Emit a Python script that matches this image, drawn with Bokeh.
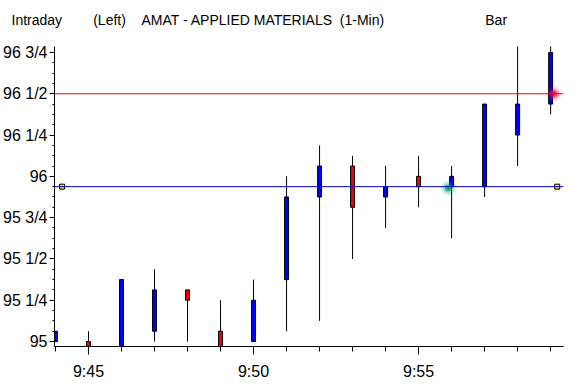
from bokeh.plotting import figure
from bokeh.models import Range1d, FixedTicker, ColumnDataSource, Span, Title
from bokeh.embed import file_html
from bokeh.resources import INLINE

# ---- data ----
times = ["9:44", "9:45", "9:46", "9:47", "9:48", "9:49", "9:50", "9:51",
         "9:52", "9:53", "9:54", "9:55", "9:56", "9:57", "9:58", "9:59"]
opens = [95.0, 95.0, 94.9375, 95.0625, 95.3125, 95.0625, 95.0, 95.375,
         95.875, 96.0625, 95.875, 96.0, 95.9375, 95.9375, 96.25, 96.4375]
highs = [95.0625, 95.0625, 95.375, 95.4375, 95.3125, 95.25, 95.375, 96.0,
         96.1875, 96.125, 96.0625, 96.125, 96.0625, 96.4375, 96.8125, 96.8125]
lows = [95.0, 94.875, 94.9375, 95.0, 95.0, 94.875, 95.0, 95.0625,
        95.125, 95.5, 95.6875, 95.8125, 95.625, 95.875, 96.0625, 96.375]
closes = [95.0625, 94.9375, 95.375, 95.3125, 95.25, 94.9375, 95.25, 95.875,
          96.0625, 95.8125, 95.9375, 95.9375, 96.0, 96.4375, 96.4375, 96.75]

y_tick_values = [95.0, 95.25, 95.5, 95.75, 96.0, 96.25, 96.5, 96.75]
y_tick_labels = ["95", "95 1/4", "95 1/2", "95 3/4", "96", "96 1/4", "96 1/2", "96 3/4"]
x_tick_labels = ["9:45", "9:50", "9:55"]

upper_level = 96.5        # red horizontal line
last_level = 95.9375      # blue horizontal line
level_marks_t = ["9:44.2", "9:59.2"]
green_dot = ("9:55.9", 95.93)
red_dot = ("9:59.1", 96.5)

header_texts = ["Intraday", "(Left)", "AMAT - APPLIED MATERIALS  (1-Min)", "Bar"]
header_gaps = [8, 4, 26]   # non-breaking spaces between header parts


def to_min(s):
    h, m = s.split(":")
    return (float(h) - 9) * 60 + float(m)


t = [to_min(s) for s in times]
bottoms = [min(o, c) for o, c in zip(opens, closes)]
tops = [max(o, c) for o, c in zip(opens, closes)]
colors = ["#0000FF" if c >= o else "#F00000" for o, c in zip(opens, closes)]
src = ColumnDataSource(dict(t=t, hi=highs, lo=lows, b=bottoms, tp=tops, col=colors))

FONT = "Liberation Sans, Arial, sans-serif"
NB = "\u00a0"

header = header_texts[0]
for g, s in zip(header_gaps, header_texts[1:]):
    header += NB * g + s.replace("  ", NB + NB)

p = figure(width=571, height=382,
           x_range=Range1d(43.97, 59.39), y_range=Range1d(94.970, 96.786),
           output_backend="svg", toolbar_location=None,
           min_border_left=54, min_border_right=8, min_border_top=44,
           min_border_bottom=35)
p.title.text = ""
p.title.visible = False

# small blank gap between the header line and the plot area, then the header
p.add_layout(Title(text=NB, text_font=FONT, text_font_size="6px", standoff=2), "above")
p.add_layout(Title(text=header, align="left", offset=-43, standoff=18,
                   text_font=FONT, text_font_size="14px", text_font_style="normal",
                   text_color="black"), "above")

p.outline_line_color = None
p.grid.visible = False
p.background_fill_color = "white"
p.border_fill_color = "white"

xa = p.below[0]
ya = p.left[0]
xa.ticker = FixedTicker(ticks=[to_min(s) for s in x_tick_labels], minor_ticks=t)
xa.major_label_overrides = {to_min(s): s for s in x_tick_labels}
ya.ticker = FixedTicker(ticks=y_tick_values,
                        minor_ticks=[95.0 + k / 16 for k in range(-1, 30)])
ya.major_label_overrides = dict(zip(y_tick_values, y_tick_labels))
for ax in (xa, ya):
    ax.major_label_text_font = FONT
    ax.major_label_text_font_size = "16px"
    ax.major_label_text_color = "black"
    ax.major_tick_in = 0
    ax.minor_tick_in = 0
    ax.axis_line_color = "black"
    ax.major_tick_line_color = "black"
    ax.minor_tick_line_color = "black"
xa.major_tick_out = 8
xa.minor_tick_out = 5
xa.major_label_standoff = 8
ya.major_tick_out = 5
ya.minor_tick_out = 2
ya.major_label_standoff = 2

p.add_layout(Span(location=upper_level, dimension="width", line_color="#FF0000", line_width=1))
p.add_layout(Span(location=last_level, dimension="width", line_color="#0000CC", line_width=1))

p.segment(x0="t", y0="lo", x1="t", y1="hi", source=src, line_color="black", line_width=1)
p.vbar(x="t", width=0.12, bottom="b", top="tp", source=src,
       fill_color="col", line_color="black", line_width=1)

p.scatter(x=[to_min(s) for s in level_marks_t], y=[last_level] * 2, marker="square",
          size=5, fill_color="#FFE000", line_color="black", line_width=1)

for (ts, yv), col in ((green_dot, "#00A070"), (red_dot, "#E8104A")):
    for sz, a in ((15, 0.12), (11, 0.25), (7, 0.6), (4, 0.9)):
        p.scatter(x=[to_min(ts)], y=[yv], size=sz, fill_color=col, fill_alpha=a,
                  line_color=None)

open("out.html", "w").write(file_html(p, INLINE))
